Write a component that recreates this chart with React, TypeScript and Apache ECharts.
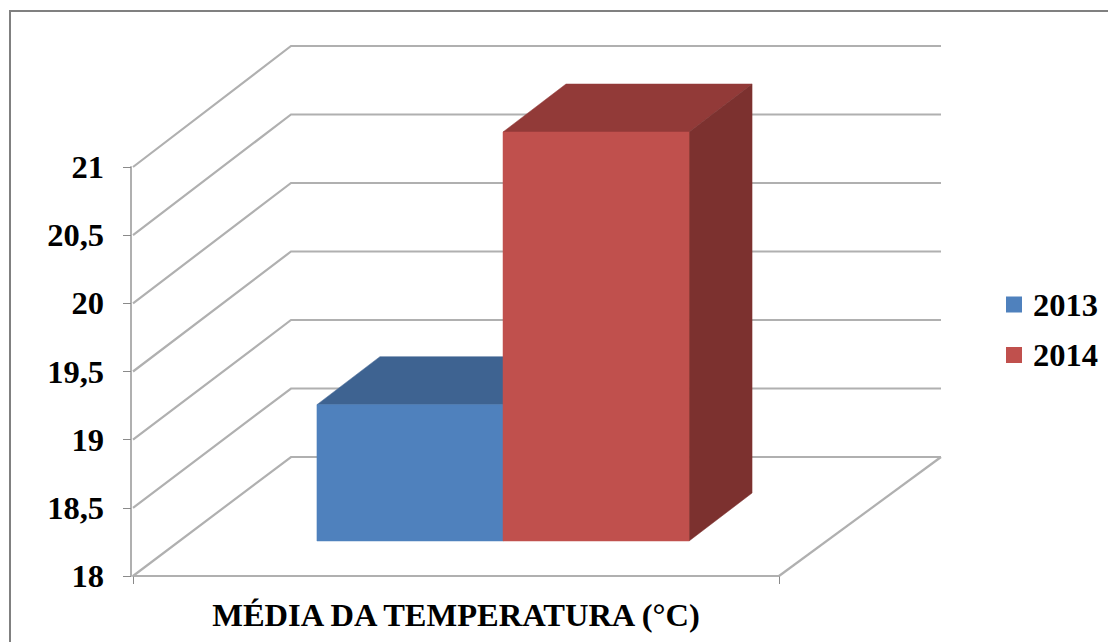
import React, { useEffect, useRef } from "react";
import * as echarts from "echarts";

const categories = ["MÉDIA DA TEMPERATURA (°C)"];
const seriesNames = ["2013", "2014"];
const values2013 = [19];
const values2014 = [21];
const yTicks = [18, 18.5, 19, 19.5, 20, 20.5, 21];

const FONT = '"Liberation Serif", "Times New Roman", serif';
const FONT_SIZE = 32.5;
const GRID_COLOR = "#b0b0b0";
const TICK_COLOR = "#8a8a8a";

// Oblique projection of the box: rear wall and bar offsets in pixels.
const WALL_DX_LEFT = 158;
const WALL_DX_RIGHT = 162;
const WALL_DY = 119;
// The rear wall reads slightly taller than the front plane.
const WALL_DY_PER_UNIT = 0.67;
const BAR_SHIFT_X = 47;
const BAR_SHIFT_Y = 35;
const BAR_DEPTH_X = 63;
const BAR_DEPTH_Y = 48;
const BAR_BAND_RATIO = 0.288;

const wallItem = (params: any, api: any) => {
  const v = api.value(0);
  const left = params.coordSys.x;
  const right = left + params.coordSys.width;
  const y = api.coord([0, v])[1];
  const rearY = y - WALL_DY - (v - yTicks[0]) * WALL_DY_PER_UNIT;
  const style = { stroke: GRID_COLOR, lineWidth: 2.2, fill: "none" };
  const children: any[] = [
    {
      type: "polyline",
      shape: {
        points: [
          [left, y],
          [left + WALL_DX_LEFT, rearY],
          [right + WALL_DX_RIGHT, rearY],
        ],
      },
      style,
    },
  ];
  if (v === yTicks[0]) {
    children.push({
      type: "line",
      shape: { x1: right + WALL_DX_RIGHT, y1: rearY, x2: right, y2: y },
      style,
    });
  }
  return { type: "group", children };
};

const barItem =
  (slot: number, front: string, top: string, side: string) =>
  (_params: any, api: any) => {
    const center = api.coord([api.value(0), 0])[0];
    const bandWidth = api.size([1, 0])[0];
    const width = bandWidth * BAR_BAND_RATIO;
    const x0 = center + BAR_SHIFT_X + (slot - 1) * width;
    const x1 = x0 + width;
    const yBase = api.coord([0, yTicks[0]])[1] - BAR_SHIFT_Y;
    const yTop = api.coord([0, api.value(1)])[1] - BAR_SHIFT_Y;
    const poly = (points: number[][], fill: string) => ({
      type: "polygon",
      shape: { points },
      style: { fill, stroke: fill, lineWidth: 0.5 },
    });
    return {
      type: "group",
      children: [
        poly(
          [
            [x0, yTop],
            [x0 + BAR_DEPTH_X, yTop - BAR_DEPTH_Y],
            [x1 + BAR_DEPTH_X, yTop - BAR_DEPTH_Y],
            [x1, yTop],
          ],
          top,
        ),
        poly(
          [
            [x1, yTop],
            [x1 + BAR_DEPTH_X, yTop - BAR_DEPTH_Y],
            [x1 + BAR_DEPTH_X, yBase - BAR_DEPTH_Y],
            [x1, yBase],
          ],
          side,
        ),
        poly(
          [
            [x0, yTop],
            [x1, yTop],
            [x1, yBase],
            [x0, yBase],
          ],
          front,
        ),
      ],
    };
  };

export default function App() {
  const ref = useRef<HTMLDivElement>(null);

  useEffect(() => {
    document.body.style.margin = "0";
    const chart = echarts.init(ref.current!, null, { renderer: "svg" });
    chart.setOption({
      animation: false,
      backgroundColor: "#ffffff",
      textStyle: { fontFamily: FONT },
      grid: { left: 133, right: 329, top: 167, bottom: 66 },
      graphic: [
        {
          type: "polyline",
          silent: true,
          shape: {
            points: [
              [10, 642],
              [10, 11],
              [1108, 11],
            ],
          },
          style: { stroke: "#808080", lineWidth: 2, fill: "none" },
        },
      ],
      legend: {
        data: seriesNames,
        orient: "vertical",
        left: 1006,
        top: 288,
        padding: 0,
        itemWidth: 16,
        itemHeight: 16,
        itemGap: 17.5,
        icon: "rect",
        selectedMode: false,
        textStyle: {
          fontFamily: FONT,
          fontWeight: "bold",
          fontSize: FONT_SIZE,
          color: "#000",
          padding: [0, 0, 0, 6],
        },
      },
      xAxis: {
        type: "category",
        data: categories,
        axisLine: { lineStyle: { color: GRID_COLOR, width: 2 } },
        axisTick: { show: true, interval: 0, length: 8, lineStyle: { color: TICK_COLOR, width: 1 } },
        axisLabel: {
          margin: 22,
          fontFamily: FONT,
          fontWeight: "bold",
          fontSize: FONT_SIZE,
          color: "#000",
        },
      },
      yAxis: {
        type: "value",
        min: 18,
        max: 21,
        interval: 0.5,
        offset: 2,
        splitLine: { show: false },
        axisLine: { show: true, lineStyle: { color: GRID_COLOR, width: 2 } },
        axisTick: { show: true, length: 8, lineStyle: { color: TICK_COLOR, width: 1 } },
        axisLabel: {
          margin: 27,
          fontFamily: FONT,
          fontWeight: "bold",
          fontSize: FONT_SIZE,
          color: "#000",
          formatter: (v: number) => String(v).replace(".", ","),
        },
      },
      series: [
        {
          type: "custom",
          name: "walls",
          silent: true,
          data: yTicks.map((v) => [v]),
          encode: { y: 0 },
          renderItem: wallItem,
        },
        {
          type: "custom",
          name: seriesNames[0],
          itemStyle: { color: "#4f81bd" },
          data: categories.map((_, i) => [i, values2013[i]]),
          encode: { x: 0, y: 1 },
          renderItem: barItem(0, "#4f81bd", "#3e6391", "#375b85"),
        },
        {
          type: "custom",
          name: seriesNames[1],
          itemStyle: { color: "#c0504d" },
          data: categories.map((_, i) => [i, values2014[i]]),
          encode: { x: 0, y: 1 },
          renderItem: barItem(1, "#c0504d", "#923a38", "#7c312f"),
        },
      ],
    });
    return () => chart.dispose();
  }, []);

  return <div ref={ref} style={{ position: "absolute", left: 0, top: 0, width: 1108, height: 642 }} />;
}
